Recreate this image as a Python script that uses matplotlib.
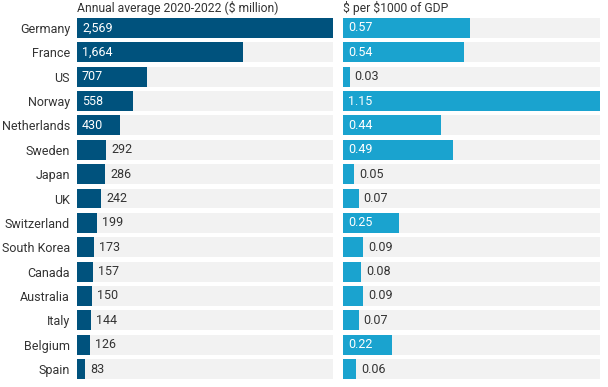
import matplotlib
matplotlib.use("Agg")
import matplotlib.pyplot as plt
from matplotlib.transforms import offset_copy

countries = ["Germany", "France", "US", "Norway", "Netherlands", "Sweden", "Japan", "UK",
             "Switzerland", "South Korea", "Canada", "Australia", "Italy", "Belgium", "Spain"]
annual = [2569, 1664, 707, 558, 430, 292, 286, 242, 199, 173, 157, 150, 144, 126, 83]
per_gdp = [0.57, 0.54, 0.03, 1.15, 0.44, 0.49, 0.05, 0.07, 0.25, 0.09, 0.08, 0.09, 0.07, 0.22, 0.06]
title_left = "Annual average 2020-2022 (\\$ million)"
title_right = "\\$ per \\$1000 of GDP"

plt.rcParams['font.family'] = ['Roboto', 'DejaVu Sans']
FS = 9
fig = plt.figure(figsize=(6.08, 3.87), dpi=100)
axL = fig.add_axes([77/608, 1-381.2/387, 256/608, 365.4/387])
axR = fig.add_axes([343/608, 1-381.2/387, 257/608, 365.4/387])

dark = "#333333"
def draw(ax, vals, color, fmt, thresh, vmax):
    y = list(range(len(vals)))
    ax.barh(y, [vmax]*len(vals), height=0.82, color="#f2f2f2", zorder=0)
    ax.barh(y, vals, height=0.82, color=color, zorder=1)
    ax.set_xlim(0, vmax)
    ax.set_ylim(len(vals)-0.5, -0.5)
    for s in ax.spines.values():
        s.set_visible(False)
    ax.set_xticks([])
    ax.tick_params(axis='y', length=0, pad=5, labelsize=FS, labelcolor=dark)
    for yi, v in zip(y, vals):
        t = offset_copy(ax.transData, fig=fig, x=5, y=0, units='dots')
        if v >= thresh:
            ax.text(0, yi, fmt(v), color="white", va="center", ha="left", fontsize=FS, transform=t, zorder=2)
        else:
            ax.text(v, yi, fmt(v), color=dark, va="center", ha="left", fontsize=FS, transform=t, zorder=2)

draw(axL, annual, "#00527d", lambda v: f"{v:,}", 400, 2569)
axL.set_yticks(range(len(countries)))
axL.set_yticklabels(countries)
draw(axR, per_gdp, "#1aa3cf", lambda v: f"{v:.2f}", 0.2, 1.15)
axR.set_yticks([])

fig.text(77/608, 1-8/387, title_left, fontsize=8.7, color=dark, ha="left", va="center")
fig.text(343/608, 1-8/387, title_right, fontsize=8.7, color=dark, ha="left", va="center")

fig.savefig("out.png", dpi=100, facecolor="white")
